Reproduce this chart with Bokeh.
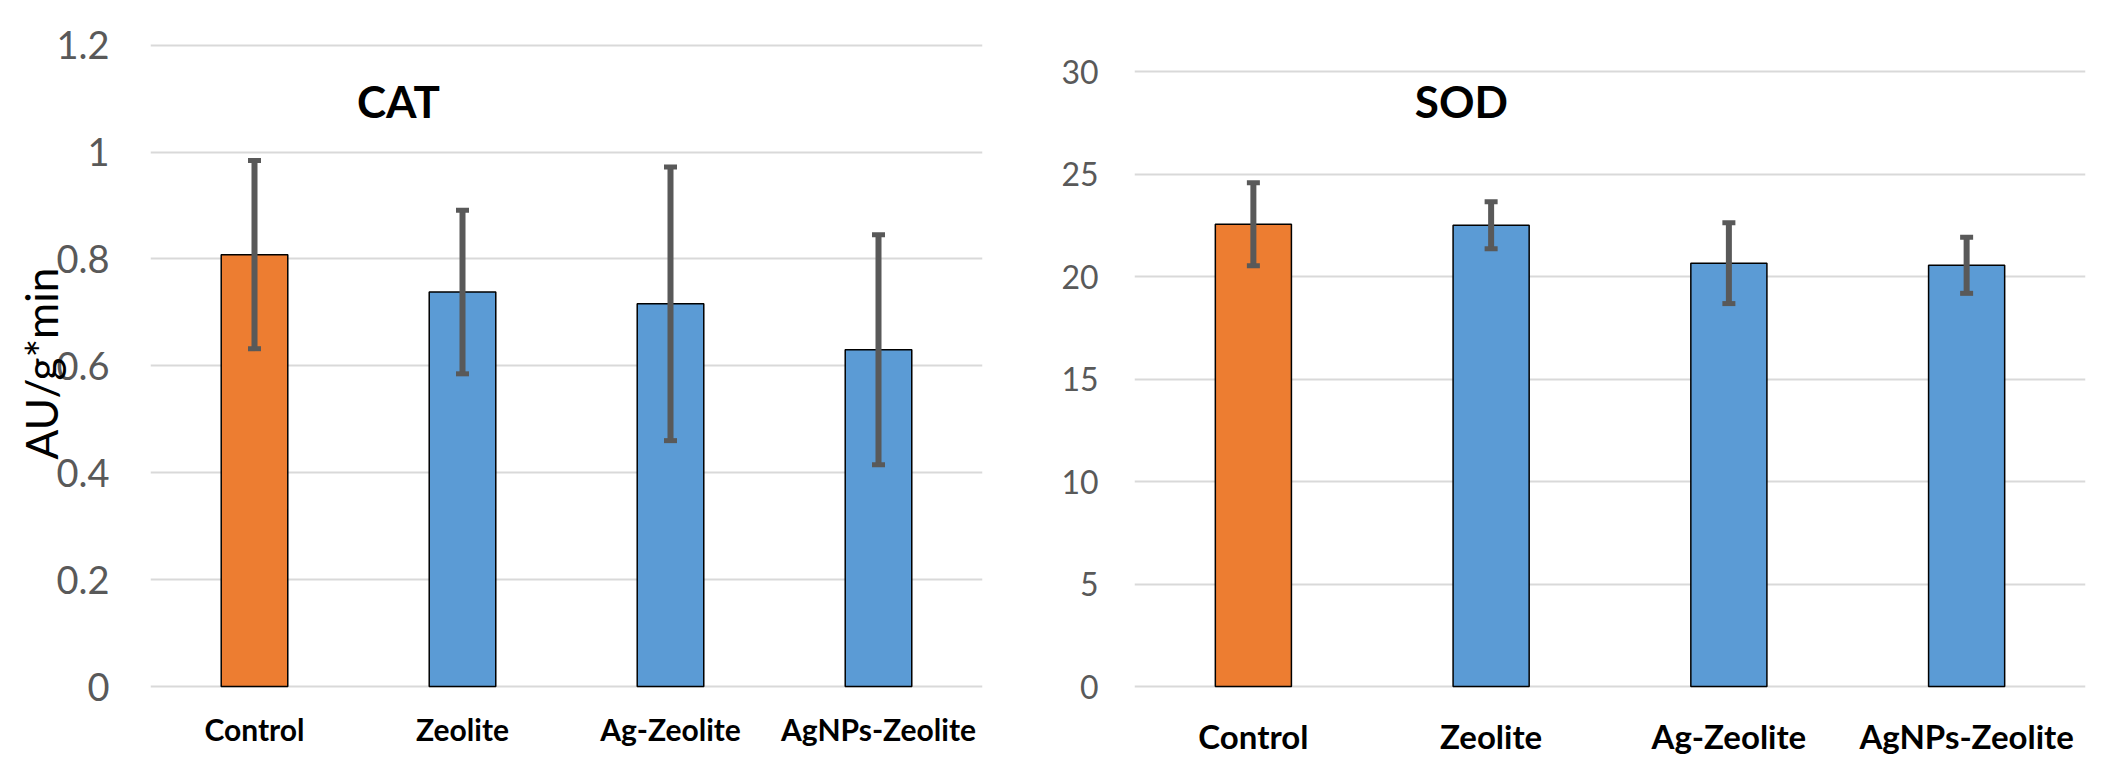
import math
from bokeh.plotting import figure
from bokeh.models import (FactorRange, Range1d, FixedTicker, CustomJSTickFormatter,
                          Whisker, TeeHead, ColumnDataSource, Label)
from bokeh.layouts import row
from bokeh.embed import file_html
from bokeh.resources import INLINE

# ---------------- data ----------------
categories = ["Control", "Zeolite", "Ag-Zeolite", "AgNPs-Zeolite"]
bar_colors = ["#ED7D31", "#5B9BD5", "#5B9BD5", "#5B9BD5"]

cat_mean = [0.808, 0.738, 0.716, 0.630]
cat_err = [0.176, 0.153, 0.256, 0.215]
cat_ticks = [0, 0.2, 0.4, 0.6, 0.8, 1, 1.2]

sod_mean = [22.55, 22.50, 20.65, 20.55]
sod_err = [2.03, 1.15, 1.97, 1.37]
sod_ticks = [0, 5, 10, 15, 20, 25, 30]

FONT = "Lato"
GRID = "#D9D9D9"
TICKC = "#595959"
ERRC = "#595959"


def build(means, errs, ticks, yr, width, height, borders, tick_size, tick_standoff,
          cat_size, cat_standoff):
    src = ColumnDataSource(dict(
        x=categories, top=means, color=bar_colors,
        upper=[m + e for m, e in zip(means, errs)],
        lower=[m - e for m, e in zip(means, errs)],
    ))
    p = figure(width=width, height=height, x_range=FactorRange(factors=categories),
               y_range=Range1d(*yr), output_backend="svg", toolbar_location=None,
               min_border_left=borders[0], min_border_right=borders[1],
               min_border_top=borders[2], min_border_bottom=borders[3])
    p.outline_line_color = None
    p.background_fill_color = "white"
    p.border_fill_color = "white"
    p.xgrid.grid_line_color = None
    p.ygrid.grid_line_color = GRID
    p.ygrid.grid_line_width = 2

    p.yaxis.ticker = FixedTicker(ticks=ticks)
    p.yaxis.formatter = CustomJSTickFormatter(code="return tick.toString();")
    p.yaxis.axis_line_color = None
    p.yaxis.major_tick_line_color = None
    p.yaxis.minor_tick_line_color = None
    p.yaxis.major_tick_out = 0
    p.yaxis.major_tick_in = 0
    p.yaxis.major_label_standoff = tick_standoff
    p.yaxis.major_label_text_font = FONT
    p.yaxis.major_label_text_font_size = tick_size
    p.yaxis.major_label_text_color = TICKC

    p.xaxis.axis_line_color = None
    p.xaxis.major_tick_line_color = None
    p.xaxis.major_tick_out = 0
    p.xaxis.major_tick_in = 0
    p.xaxis.major_label_standoff = cat_standoff
    p.xaxis.major_label_text_font = FONT
    p.xaxis.major_label_text_font_style = "bold"
    p.xaxis.major_label_text_font_size = cat_size
    p.xaxis.major_label_text_color = "black"

    p.vbar(x="x", top="top", bottom=0, width=0.32, source=src, fill_color="color",
           line_color="black", line_width=1.5)
    w = Whisker(base="x", upper="upper", lower="lower", source=src,
                line_color=ERRC, line_width=6, level="annotation",
                upper_head=TeeHead(size=13, line_color=ERRC, line_width=5),
                lower_head=TeeHead(size=13, line_color=ERRC, line_width=5))
    p.add_layout(w)
    return p


H = 766
p1 = build(cat_mean, cat_err, cat_ticks, (-0.00748, 1.2161), 1030, H,
           (150, 48, 36, H - 690), "38px", 41, "30px", 20)
p1.add_layout(Label(x=1.192, y=1.096, text="CAT", text_font=FONT, text_font_size="44px",
                    text_font_style="bold", text_align="center", text_baseline="alphabetic",
                    text_color="black"))
p1.yaxis.axis_label = "AU/g*min"
p1.yaxis.axis_label_text_font = FONT
p1.yaxis.axis_label_text_font_style = "normal"
p1.yaxis.axis_label_text_font_size = "44px"
p1.yaxis.axis_label_text_color = "black"
p1.yaxis.axis_label_standoff = -14

p2 = build(sod_mean, sod_err, sod_ticks, (-0.1925, 31.708), 1072, H,
           (104, 17, 36, H - 699), "32px", 36, "33px", 25)
p2.add_layout(Label(x=1.375, y=28.54, text="SOD", text_font=FONT, text_font_size="44px",
                    text_font_style="bold", text_align="center", text_baseline="alphabetic",
                    text_color="black"))

layout = row(p1, p2, spacing=0)
open("out.html", "w").write(file_html(layout, INLINE))
